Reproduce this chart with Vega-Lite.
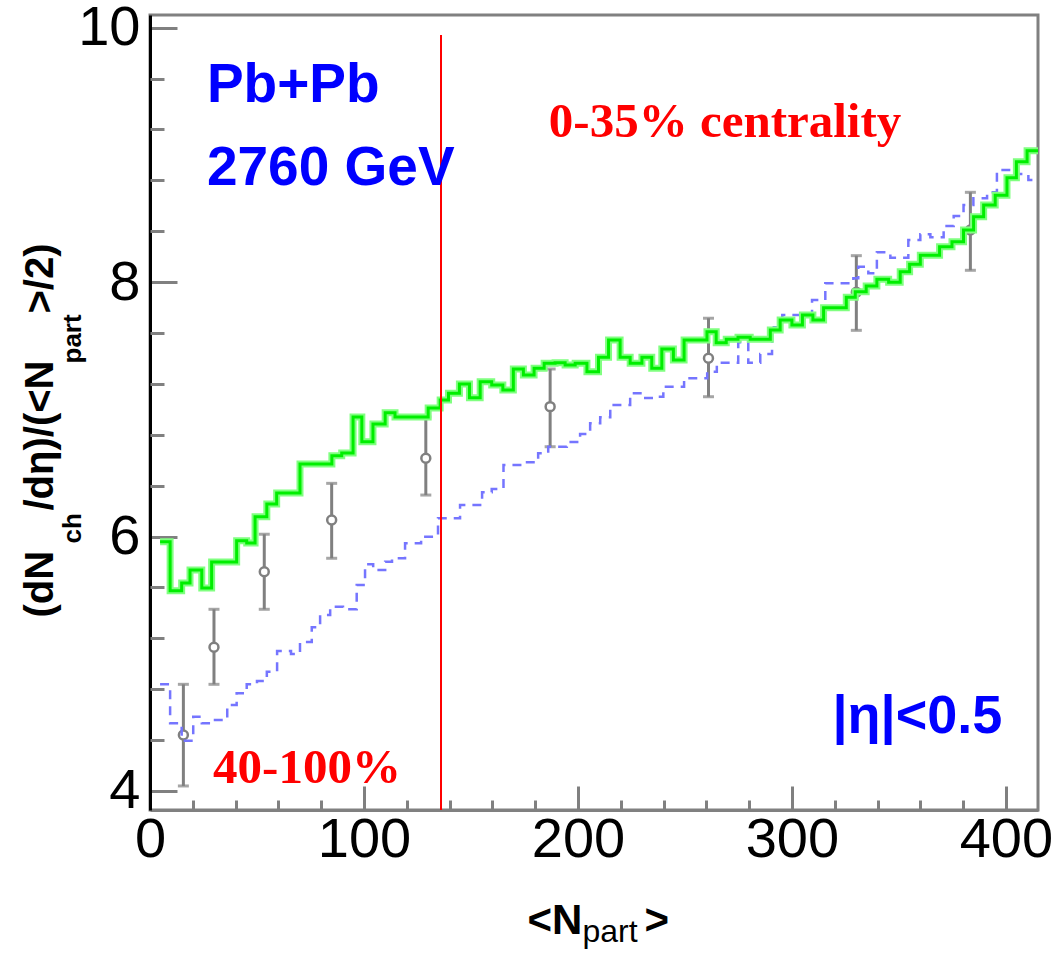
{
  "$schema": "https://vega.github.io/schema/vega-lite/v6.json",
  "autosize": {"type": "none"},
  "padding": {"left": 150, "top": 15, "right": 23, "bottom": 143},
  "width": 888,
  "height": 795,
  "background": "white",
  "config": {
    "view": {"stroke": "#808080", "strokeWidth": 3},
    "axis": {"grid": false}
  },
  "datasets": {
    "green": [
      {"x": 4.7, "y": 5.959}, {"x": 9.4, "y": 5.574}, {"x": 14.8, "y": 5.635}, {"x": 18.7, "y": 5.737},
      {"x": 24.2, "y": 5.595}, {"x": 28.8, "y": 5.8}, {"x": 40.5, "y": 5.967}, {"x": 45.2, "y": 5.949},
      {"x": 49.1, "y": 6.156}, {"x": 54.6, "y": 6.256}, {"x": 59.2, "y": 6.342}, {"x": 70.1, "y": 6.57},
      {"x": 85.0, "y": 6.635}, {"x": 89.6, "y": 6.657}, {"x": 94.9, "y": 6.94}, {"x": 99.0, "y": 6.746},
      {"x": 104.2, "y": 6.885}, {"x": 109.9, "y": 6.973}, {"x": 114.5, "y": 6.94}, {"x": 130.0, "y": 7.01},
      {"x": 135.6, "y": 7.073}, {"x": 139.5, "y": 7.126}, {"x": 144.6, "y": 7.199}, {"x": 149.3, "y": 7.091},
      {"x": 154.3, "y": 7.217}, {"x": 159.7, "y": 7.191}, {"x": 164.9, "y": 7.152}, {"x": 169.8, "y": 7.317},
      {"x": 174.5, "y": 7.27}, {"x": 179.5, "y": 7.322}, {"x": 184.2, "y": 7.362}, {"x": 189.3, "y": 7.366},
      {"x": 194.0, "y": 7.348}, {"x": 198.7, "y": 7.362}, {"x": 204.2, "y": 7.296}, {"x": 209.6, "y": 7.409},
      {"x": 214.3, "y": 7.545}, {"x": 219.7, "y": 7.409}, {"x": 224.4, "y": 7.362}, {"x": 229.9, "y": 7.409},
      {"x": 234.5, "y": 7.322}, {"x": 239.2, "y": 7.474}, {"x": 244.6, "y": 7.388}, {"x": 249.6, "y": 7.545},
      {"x": 260.3, "y": 7.61}, {"x": 264.6, "y": 7.524}, {"x": 269.3, "y": 7.55}, {"x": 274.8, "y": 7.566},
      {"x": 280.5, "y": 7.55}, {"x": 289.9, "y": 7.624}, {"x": 294.5, "y": 7.702}, {"x": 300.0, "y": 7.663},
      {"x": 304.9, "y": 7.741}, {"x": 309.8, "y": 7.702}, {"x": 314.8, "y": 7.799}, {"x": 325.4, "y": 7.881},
      {"x": 329.6, "y": 7.925}, {"x": 334.7, "y": 7.97}, {"x": 339.7, "y": 8.022}, {"x": 345.2, "y": 7.999},
      {"x": 350.6, "y": 8.082}, {"x": 355.0, "y": 8.14}, {"x": 360.0, "y": 8.211}, {"x": 369.0, "y": 8.278},
      {"x": 374.8, "y": 8.318}, {"x": 380.2, "y": 8.41}, {"x": 384.9, "y": 8.514}, {"x": 389.6, "y": 8.606},
      {"x": 395.0, "y": 8.683}, {"x": 400.5, "y": 8.821}, {"x": 404.9, "y": 8.947}, {"x": 409.9, "y": 9.033},
      {"x": 415, "y": 9.033}
    ],
    "blue": [
      {"x": 4.7, "y": 4.838}, {"x": 9.4, "y": 4.532}, {"x": 14.8, "y": 4.395}, {"x": 20.2, "y": 4.584},
      {"x": 24.2, "y": 4.532}, {"x": 29.5, "y": 4.558}, {"x": 36.1, "y": 4.676}, {"x": 40.5, "y": 4.768},
      {"x": 45.2, "y": 4.838}, {"x": 50.0, "y": 4.864}, {"x": 54.6, "y": 4.937}, {"x": 59.4, "y": 5.1},
      {"x": 65.9, "y": 5.077}, {"x": 70.1, "y": 5.171}, {"x": 75.6, "y": 5.286}, {"x": 79.5, "y": 5.383},
      {"x": 84.2, "y": 5.448}, {"x": 90.2, "y": 5.428}, {"x": 96.6, "y": 5.619}, {"x": 100.5, "y": 5.782},
      {"x": 104.3, "y": 5.737}, {"x": 109.9, "y": 5.802}, {"x": 113.1, "y": 5.829}, {"x": 119.2, "y": 5.947},
      {"x": 126.7, "y": 5.999}, {"x": 134.6, "y": 6.143}, {"x": 144.9, "y": 6.248}, {"x": 155.2, "y": 6.348},
      {"x": 159.7, "y": 6.374}, {"x": 165.2, "y": 6.562}, {"x": 175.3, "y": 6.583}, {"x": 181.4, "y": 6.654},
      {"x": 186.1, "y": 6.706}, {"x": 194.8, "y": 6.743}, {"x": 201.0, "y": 6.806}, {"x": 205.7, "y": 6.89},
      {"x": 210.4, "y": 6.937}, {"x": 215.1, "y": 7.034}, {"x": 224.4, "y": 7.126}, {"x": 230.5, "y": 7.089},
      {"x": 235.2, "y": 7.099}, {"x": 239.9, "y": 7.178}, {"x": 249.6, "y": 7.244}, {"x": 260.4, "y": 7.296},
      {"x": 264.9, "y": 7.367}, {"x": 274.9, "y": 7.527}, {"x": 279.6, "y": 7.367}, {"x": 285.2, "y": 7.435},
      {"x": 290.7, "y": 7.645}, {"x": 295.5, "y": 7.741}, {"x": 309.4, "y": 7.859}, {"x": 315.6, "y": 7.991},
      {"x": 328.7, "y": 8.03}, {"x": 331.0, "y": 8.121}, {"x": 335.7, "y": 8.069}, {"x": 339.7, "y": 8.234},
      {"x": 346.0, "y": 8.192}, {"x": 354.4, "y": 8.331}, {"x": 360.0, "y": 8.376}, {"x": 364.7, "y": 8.352},
      {"x": 370.9, "y": 8.441}, {"x": 375.6, "y": 8.52}, {"x": 380.2, "y": 8.606}, {"x": 384.8, "y": 8.659},
      {"x": 391.2, "y": 8.706}, {"x": 395.8, "y": 8.881}, {"x": 405.2, "y": 8.85}, {"x": 410.5, "y": 8.803},
      {"x": 415, "y": 8.803}
    ],
    "points": [
      {"x": 15.6, "y": 4.44, "lo": 4.039, "hi": 4.838},
      {"x": 29.9, "y": 5.129, "lo": 4.838, "hi": 5.428},
      {"x": 53.4, "y": 5.723, "lo": 5.428, "hi": 6.018},
      {"x": 84.9, "y": 6.13, "lo": 5.829, "hi": 6.418},
      {"x": 128.9, "y": 6.615, "lo": 6.326, "hi": 6.94},
      {"x": 187.0, "y": 7.021, "lo": 6.706, "hi": 7.317},
      {"x": 261.0, "y": 7.401, "lo": 7.099, "hi": 7.716},
      {"x": 330.1, "y": 7.92, "lo": 7.621, "hi": 8.208},
      {"x": 383.4, "y": 8.41, "lo": 8.093, "hi": 8.706}
    ],
    "one": [{}]
  },
  "resolve": {"axis": {"x": "independent", "y": "independent"}},
  "layer": [
    {
      "data": {"name": "points"},
      "mark": {"type": "rule", "color": "#808080", "strokeWidth": 3},
      "encoding": {
        "x": {"field": "x", "type": "quantitative", "scale": {"domain": [0, 415], "nice": false, "zero": false},
          "axis": {"orient": "bottom", "values": [0, 100, 200, 300, 400], "tickSize": -24, "tickWidth": 3, "tickColor": "#808080",
            "domain": true, "domainColor": "#808080", "domainWidth": 3,
            "labelFont": "Liberation Sans", "labelFontSize": 56, "labelColor": "black", "labelPadding": 26, "labelFlush": false, "labelOverlap": false,
            "title": "<N", "titleFont": "Liberation Sans", "titleFontWeight": "bold", "titleFontSize": 42, "titleColor": "black",
            "titleX": 377, "titleY": 123, "titleAlign": "left", "titleBaseline": "alphabetic", "titleAnchor": null}},
        "y": {"field": "lo", "type": "quantitative", "scale": {"domain": [3.85, 10.1], "nice": false, "zero": false},
          "axis": {"orient": "left", "values": [4, 6, 8, 10], "tickSize": -27, "tickWidth": 3, "tickColor": "#808080",
            "domain": true, "domainColor": "black", "domainWidth": 3,
            "labelFont": "Liberation Sans", "labelFontSize": 56, "labelColor": "black", "labelPadding": 37, "labelFlush": false, "labelOverlap": false,
            "title": "(dN", "titleFont": "Liberation Sans", "titleFontWeight": "bold", "titleFontSize": 40, "titleColor": "black",
            "titleAngle": 270, "titleX": -98, "titleY": 602, "titleAlign": "left", "titleBaseline": "alphabetic"}},
        "y2": {"field": "hi"}
      }
    },
    {
      "data": {"name": "points"},
      "mark": {"type": "tick", "orient": "horizontal", "color": "#808080", "size": 11, "thickness": 3},
      "encoding": {
        "x": {"field": "x", "type": "quantitative",
          "axis": {"orient": "bottom", "values": [20, 40, 60, 80, 120, 140, 160, 180, 220, 240, 260, 280, 320, 340, 360, 380],
            "tickSize": -10, "tickWidth": 3, "tickColor": "#808080", "domain": false, "labels": false,
            "title": "part", "titleFont": "Liberation Sans", "titleFontWeight": "normal", "titleFontSize": 32, "titleColor": "black",
            "titleX": 432, "titleY": 131, "titleAlign": "left", "titleBaseline": "alphabetic"}},
        "y": {"field": "lo", "type": "quantitative",
          "axis": {"orient": "left", "values": [4.4, 4.8, 5.2, 5.6, 6.4, 6.8, 7.2, 7.6, 8.4, 8.8, 9.2, 9.6],
            "tickSize": -14, "tickWidth": 3, "tickColor": "#808080", "domain": false, "labels": false,
            "title": "ch", "titleFont": "Liberation Sans", "titleFontWeight": "bold", "titleFontSize": 26, "titleColor": "black",
            "titleAngle": 270, "titleX": -70, "titleY": 528, "titleAlign": "left", "titleBaseline": "alphabetic"}}
      }
    },
    {
      "data": {"name": "points"},
      "mark": {"type": "tick", "orient": "horizontal", "color": "#808080", "size": 11, "thickness": 3},
      "encoding": {
        "x": {"field": "x", "type": "quantitative",
          "axis": {"orient": "bottom", "ticks": false, "domain": false, "labels": false,
            "title": ">", "titleFont": "Liberation Sans", "titleFontWeight": "bold", "titleFontSize": 42, "titleColor": "black",
            "titleX": 494, "titleY": 123, "titleAlign": "left", "titleBaseline": "alphabetic"}},
        "y": {"field": "hi", "type": "quantitative",
          "axis": {"orient": "left", "ticks": false, "domain": false, "labels": false,
            "title": "/dη)/(<N", "titleFont": "Liberation Sans", "titleFontWeight": "bold", "titleFontSize": 40, "titleColor": "black",
            "titleAngle": 270, "titleX": -98, "titleY": 495, "titleAlign": "left", "titleBaseline": "alphabetic"}}
      }
    },
    {
      "data": {"name": "points"},
      "mark": {"type": "point", "shape": "circle", "filled": false, "fill": "white", "fillOpacity": 1, "stroke": "#808080", "strokeWidth": 2.5, "size": 80, "opacity": 1},
      "encoding": {
        "x": {"field": "x", "type": "quantitative", "axis": null},
        "y": {"field": "y", "type": "quantitative",
          "axis": {"orient": "left", "ticks": false, "domain": false, "labels": false,
            "title": "part", "titleFont": "Liberation Sans", "titleFontWeight": "bold", "titleFontSize": 26, "titleColor": "black",
            "titleAngle": 270, "titleX": -70, "titleY": 348, "titleAlign": "left", "titleBaseline": "alphabetic"}}
      }
    },
    {
      "data": {"name": "blue"},
      "mark": {"type": "line", "interpolate": "step-after", "color": "#7575ff", "strokeWidth": 2.5, "strokeDash": [9, 7]},
      "encoding": {
        "x": {"field": "x", "type": "quantitative", "axis": null},
        "y": {"field": "y", "type": "quantitative",
          "axis": {"orient": "left", "ticks": false, "domain": false, "labels": false,
            "title": ">/2)", "titleFont": "Liberation Sans", "titleFontWeight": "bold", "titleFontSize": 40, "titleColor": "black",
            "titleAngle": 270, "titleX": -98, "titleY": 298, "titleAlign": "left", "titleBaseline": "alphabetic"}}
      }
    },
    {
      "data": {"name": "green"},
      "mark": {"type": "line", "interpolate": "step-after", "color": "#80ff80", "strokeWidth": 7},
      "encoding": {
        "x": {"field": "x", "type": "quantitative", "axis": null},
        "y": {"field": "y", "type": "quantitative", "axis": null}
      }
    },
    {
      "data": {"name": "green"},
      "mark": {"type": "line", "interpolate": "step-after", "color": "#00ee00", "strokeWidth": 3},
      "encoding": {
        "x": {"field": "x", "type": "quantitative", "axis": null},
        "y": {"field": "y", "type": "quantitative", "axis": null}
      }
    },
    {
      "data": {"name": "one"},
      "mark": {"type": "rule", "color": "#ff0000", "strokeWidth": 2},
      "encoding": {
        "x": {"datum": 136, "type": "quantitative", "axis": null},
        "y": {"datum": 3.85, "type": "quantitative", "axis": null},
        "y2": {"datum": 9.943}
      }
    },
    {
      "data": {"name": "one"},
      "mark": {"type": "text", "text": "Pb+Pb", "font": "Liberation Sans", "fontWeight": "bold", "fontSize": 55, "color": "#0000ff", "align": "left", "baseline": "alphabetic"},
      "encoding": {
        "x": {"datum": 26.6, "type": "quantitative", "axis": null},
        "y": {"datum": 9.416, "type": "quantitative", "axis": null}
      }
    },
    {
      "data": {"name": "one"},
      "mark": {"type": "text", "text": "2760 GeV", "font": "Liberation Sans", "fontWeight": "bold", "fontSize": 55, "color": "#0000ff", "align": "left", "baseline": "alphabetic"},
      "encoding": {
        "x": {"datum": 26.6, "type": "quantitative", "axis": null},
        "y": {"datum": 8.764, "type": "quantitative", "axis": null}
      }
    },
    {
      "data": {"name": "one"},
      "mark": {"type": "text", "text": "0-35% centrality", "font": "Liberation Serif", "fontWeight": "bold", "fontSize": 49, "color": "#ff0000", "align": "left", "baseline": "alphabetic"},
      "encoding": {
        "x": {"datum": 186.4, "type": "quantitative", "axis": null},
        "y": {"datum": 9.143, "type": "quantitative", "axis": null}
      }
    },
    {
      "data": {"name": "one"},
      "mark": {"type": "text", "text": "40-100%", "font": "Liberation Serif", "fontWeight": "bold", "fontSize": 49, "color": "#ff0000", "align": "left", "baseline": "alphabetic"},
      "encoding": {
        "x": {"datum": 29.5, "type": "quantitative", "axis": null},
        "y": {"datum": 4.062, "type": "quantitative", "axis": null}
      }
    },
    {
      "data": {"name": "one"},
      "mark": {"type": "text", "text": "|η|<0.5", "font": "Liberation Sans", "fontWeight": "bold", "fontSize": 54, "color": "#0000ff", "align": "right", "baseline": "alphabetic"},
      "encoding": {
        "x": {"datum": 398.3, "type": "quantitative", "axis": null},
        "y": {"datum": 4.455, "type": "quantitative", "axis": null}
      }
    }
  ]
}
